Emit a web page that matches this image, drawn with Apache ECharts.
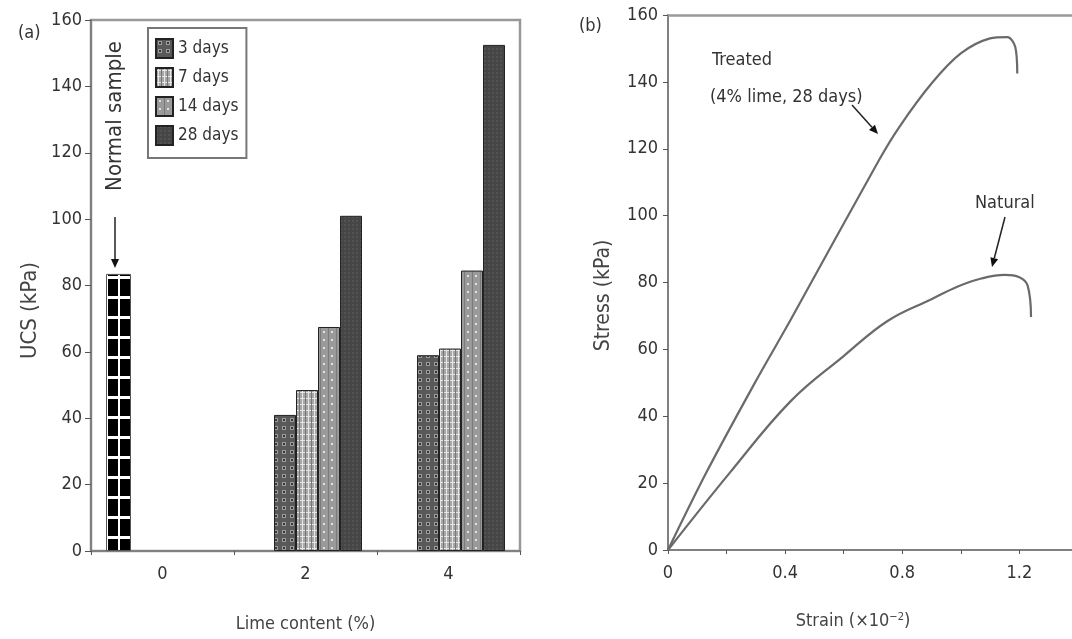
<!DOCTYPE html>
<html><head><meta charset="utf-8">
<script src="https://cdn.jsdelivr.net/npm/echarts@6/dist/echarts.min.js"></script>
<style>html,body{margin:0;padding:0;background:#fff}#main{width:1072px;height:639px}</style>
</head><body><div id="main"></div>
<script>
// ---- data ----
const categories = ['0', '2', '4'];
const normalSample = [83.5, null, null];
const days3  = [null, 41, 59];
const days7  = [null, 48.5, 61];
const days14 = [null, 67.5, 84.5];
const days28 = [null, 101, 152.5];
const dayNames = ['3 days', '7 days', '14 days', '28 days'];
const uscTicks = [0, 20, 40, 60, 80, 100, 120, 140, 160];
const strainLabels = [0, 0.4, 0.8, 1.2];
const treated = [[0,0],[0.13,23],[0.30,50.5],[0.42,69],[0.72,116.5],[0.79,126.5],[0.90,139.5],[1.00,148.5],[1.10,153],[1.16,153.4],[1.186,150.5],[1.193,142.5]];
const natural = [[0,0],[0.21,23],[0.42,44.6],[0.60,58],[0.75,68.5],[0.90,75],[0.99,78.8],[1.07,81.2],[1.15,82.3],[1.20,81.6],[1.228,79.2],[1.24,69.7]];

const FONT = "'Liberation Sans Narrow','DejaVu Sans Condensed','Open Sans',sans-serif";
const TXT = '#333';
const AX = '#808080';

const chart = echarts.init(document.getElementById('main'));

function pattern(w, h, draw) {
  const c = document.createElement('canvas');
  c.width = w; c.height = h;
  const ctx = c.getContext('2d');
  draw(ctx);
  return { image: c, repeat: 'repeat' };
}
const pNormal = pattern(12, 20, g => {
  g.fillStyle = '#000'; g.fillRect(0, 0, 12, 20);
  g.fillStyle = '#fff'; g.fillRect(0, 16, 12, 3); g.fillRect(10, 0, 2, 20);
});
const p3 = pattern(8, 8, g => {
  g.fillStyle = '#595959'; g.fillRect(0, 0, 8, 8);
  g.fillStyle = '#9c9c9c'; g.fillRect(2, 2, 4, 4);
  g.fillStyle = '#3a3a3a'; g.fillRect(3, 3, 2, 2);
});
const p7 = pattern(6, 6, g => {
  g.fillStyle = '#a6a6a6'; g.fillRect(0, 0, 6, 6);
  g.fillStyle = '#e6e6e6'; g.fillRect(0, 2, 6, 1); g.fillRect(2, 0, 1, 6);
  g.fillStyle = '#777'; g.fillRect(5, 0, 1, 6);
});
const p14 = pattern(8, 8, g => {
  g.fillStyle = '#9a9a9a'; g.fillRect(0, 0, 8, 8);
  g.fillStyle = '#e0e0e0'; g.fillRect(3, 3, 2, 2);
  g.fillStyle = '#7a7a7a'; g.fillRect(0, 0, 1, 8);
});
const p28 = pattern(4, 4, g => {
  g.fillStyle = '#464646'; g.fillRect(0, 0, 4, 4);
  g.fillStyle = '#535353'; g.fillRect(0, 0, 2, 2);
});
const dayPatterns = [p3, p7, p14, p28];
const dayData = [days3, days7, days14, days28];

function arrow(x1, y1, x2, y2) {
  const a = Math.atan2(y2 - y1, x2 - x1), L = 9, W = 4;
  const bx = x2 - L * Math.cos(a), by = y2 - L * Math.sin(a);
  const px = -Math.sin(a) * W, py = Math.cos(a) * W;
  return [
    { type: 'line', shape: { x1, y1, x2: bx, y2: by }, style: { stroke: '#222', lineWidth: 1.5 } },
    { type: 'polygon', shape: { points: [[x2, y2], [bx + px, by + py], [bx - px, by - py]] }, style: { fill: '#111' } }
  ];
}
function txt(x, y, text, size) {
  return { type: 'text', x, y, style: { text, font: size + 'px ' + FONT, fill: TXT, textVerticalAlign: 'middle' } };
}

const barSeries = dayNames.map((n, i) => ({
  name: n, type: 'bar', xAxisIndex: 0, yAxisIndex: 0, barWidth: 22, barGap: '0%',
  data: dayData[i], itemStyle: { color: dayPatterns[i], borderColor: '#222', borderWidth: 1 }
}));

const option = {
  backgroundColor: '#fff',
  animation: false,
  textStyle: { fontFamily: FONT },
  grid: [
    { left: 91, top: 20, right: 552, bottom: 88, show: true, borderColor: '#999', borderWidth: 2.5 },
    { left: 668, top: 15, right: 0, bottom: 89 }
  ],
  legend: {
    data: dayNames, orient: 'vertical', left: 148, top: 28,
    padding: [10, 8, 12, 7], itemGap: 8, itemWidth: 17, itemHeight: 19,
    borderColor: '#777', borderWidth: 2, backgroundColor: '#fff',
    textStyle: { fontSize: 17, color: TXT, fontFamily: FONT }, icon: 'rect'
  },
  xAxis: [
    {
      type: 'category', gridIndex: 0, data: categories,
      name: 'Lime content (%)', nameLocation: 'middle', nameGap: 64,
      nameTextStyle: { fontSize: 18, color: '#444', fontFamily: FONT },
      axisLine: { lineStyle: { color: AX, width: 2 } },
      axisTick: { show: true, length: 4, lineStyle: { color: '#555' } },
      axisLabel: { fontSize: 18, color: TXT, margin: 14, fontFamily: FONT }
    },
    {
      type: 'value', gridIndex: 1, min: 0, max: 1.38, interval: 0.2,
      name: 'Strain (×10{sup|−2})', nameLocation: 'middle', nameGap: 62,
      nameTextStyle: { fontSize: 18, color: '#444', fontFamily: FONT, padding: [0, 34, 0, 0],
        rich: { sup: { fontSize: 11, verticalAlign: 'top', padding: [0, 0, 8, 0], color: '#444' } } },
      splitLine: { show: false },
      axisLine: { lineStyle: { color: AX, width: 2 } },
      axisTick: { show: true, length: 4, lineStyle: { color: '#555' } },
      axisLabel: {
        fontSize: 18, color: TXT, margin: 14, fontFamily: FONT, showMaxLabel: false,
        formatter: v => strainLabels.some(s => Math.abs(s - v) < 1e-6) ? String(v) : ''
      }
    },
    {
      // top frame line of panel (b)
      type: 'value', gridIndex: 1, position: 'top', min: 0, max: 1.38,
      axisLine: { show: true, lineStyle: { color: '#999', width: 2.5 } },
      axisTick: { show: false }, axisLabel: { show: false }, splitLine: { show: false }
    }
  ],
  yAxis: [
    {
      type: 'value', gridIndex: 0, min: uscTicks[0], max: uscTicks[uscTicks.length - 1], interval: 20,
      name: 'UCS (kPa)', nameLocation: 'middle', nameGap: 50,
      nameTextStyle: { fontSize: 22, color: '#444', fontFamily: FONT, padding: [0, 50, 0, 0] },
      splitLine: { show: false },
      axisLine: { show: true, lineStyle: { color: AX, width: 2 } },
      axisTick: { show: true, length: 6, lineStyle: { color: '#555' } },
      axisLabel: { fontSize: 18, color: TXT, margin: 9, fontFamily: FONT }
    },
    {
      type: 'value', gridIndex: 1, min: 0, max: 160, interval: 20,
      name: 'Stress (kPa)', nameLocation: 'middle', nameGap: 54,
      nameTextStyle: { fontSize: 21, color: '#444', fontFamily: FONT, padding: [0, 26, 0, 0] },
      splitLine: { show: false },
      axisLine: { show: true, lineStyle: { color: AX, width: 2 } },
      axisTick: { show: true, length: 5, lineStyle: { color: '#555' } },
      axisLabel: { fontSize: 18, color: TXT, margin: 10, fontFamily: FONT }
    }
  ],
  series: [
    { name: 'Normal sample', type: 'bar', xAxisIndex: 0, yAxisIndex: 0, barWidth: 25, barGap: '0%',
      data: normalSample, itemStyle: { color: pNormal, borderColor: '#555', borderWidth: 1 } },
    ...barSeries,
    { name: 'Treated', type: 'line', xAxisIndex: 1, yAxisIndex: 1, data: treated, smooth: 0.3,
      showSymbol: false, lineStyle: { color: '#6a6a6a', width: 2.2 } },
    { name: 'Natural', type: 'line', xAxisIndex: 1, yAxisIndex: 1, data: natural, smooth: 0.4,
      showSymbol: false, lineStyle: { color: '#6a6a6a', width: 2.2 } }
  ],
  graphic: [
    txt(18, 33, '(a)', 18),
    txt(579, 26, '(b)', 18),
    { type: 'text', x: 115, y: 116, rotation: Math.PI / 2, style: { text: 'Normal sample', font: '22px ' + FONT, fill: TXT, textAlign: 'center', textVerticalAlign: 'middle' } },
    ...arrow(115, 217, 115, 268),
    txt(712, 60, 'Treated', 18),
    txt(710, 97, '(4% lime, 28 days)', 18),
    ...arrow(852, 105, 878, 134),
    txt(975, 203, 'Natural', 18),
    ...arrow(1005, 217, 992, 267)
  ]
};
chart.setOption(option);
</script>
</body></html>
